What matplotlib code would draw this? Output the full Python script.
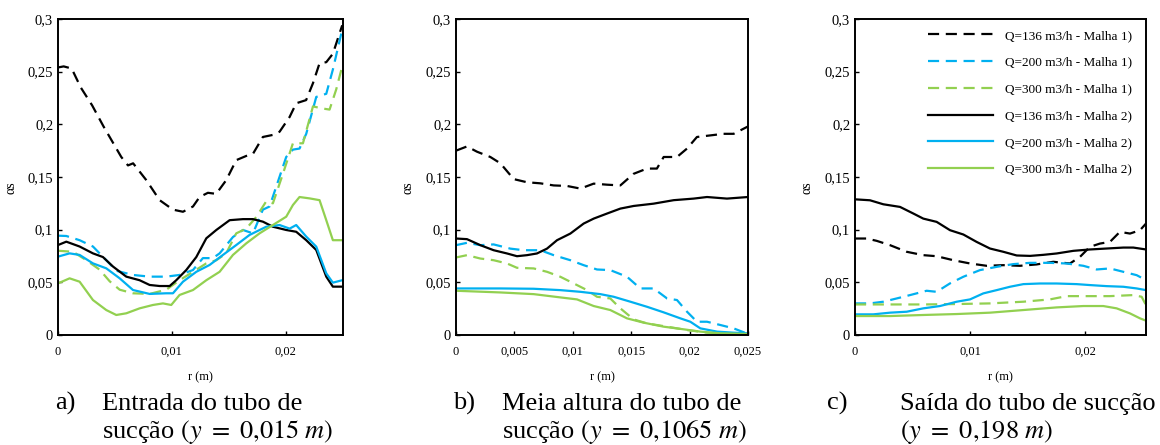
import numpy as np
import matplotlib
matplotlib.use("Agg")
import matplotlib.pyplot as plt

plt.rcParams['font.family'] = ['Liberation Serif', 'DejaVu Serif']
plt.rcParams['mathtext.fontset'] = 'stix'

BLACK = "#000000"
BLUE = "#00B0F0"
GREEN = "#92D050"

labels = ["Q=136 m3/h - Malha 1)", "Q=200 m3/h - Malha 1)", "Q=300 m3/h - Malha 1)",
          "Q=136 m3/h - Malha 2)", "Q=200 m3/h - Malha 2)", "Q=300 m3/h - Malha 2)"]

# r values are written in mm, converted to m when plotted
# ---- a) entrada do tubo de succao
a_r_136_m1 = [0, 0.5, 1.2, 2.0, 3.0, 4.0, 5.56, 6.15, 6.6, 7.76, 8.93, 10.1, 10.98, 11.86, 12.44, 13.17,
              13.9, 14.78, 15.66, 16.54, 17.13, 18.0, 18.9, 19.47, 20.35, 20.93, 21.8, 22.4, 22.98, 23.57, 24.15, 24.97]
a_136_m1 = [0.254, 0.255, 0.253, 0.235, 0.218, 0.198, 0.169, 0.161, 0.163, 0.147, 0.128, 0.119, 0.117, 0.122, 0.131, 0.135,
            0.134, 0.147, 0.166, 0.170, 0.172, 0.188, 0.19, 0.193, 0.207, 0.22, 0.223, 0.239, 0.258, 0.259, 0.267, 0.294]
a_r_200_m1 = [0, 0.73, 1.9, 3.07, 4.24, 5.12, 6.59, 8.05, 9.51, 10.68, 11.86, 12.73, 13.61, 14.2, 15.37, 16.25, 17.13,
              18.0, 18.59, 19.18, 20.05, 20.64, 21.22, 21.81, 22.69, 23.57, 24.15, 24.97]
a_200_m1 = [0.0943, 0.094, 0.09, 0.084, 0.071, 0.061, 0.057, 0.0554, 0.0554, 0.057, 0.0617, 0.073, 0.073, 0.0775, 0.093,
            0.0997, 0.0965, 0.119, 0.122, 0.141, 0.169, 0.176, 0.177, 0.191, 0.226, 0.229, 0.252, 0.29]
a_r_300_m1 = [0, 1.32, 2.49, 3.66, 4.54, 5.42, 6.59, 8.05, 9.51, 10.68, 11.86, 13.03, 13.91, 14.78, 15.66, 16.54, 17.42,
              18.3, 18.88, 19.76, 20.64, 21.52, 22.4, 23.27, 23.86, 24.44, 24.97]
a_300_m1 = [0.080, 0.079, 0.071, 0.062, 0.051, 0.043, 0.0396, 0.039, 0.043, 0.052, 0.060, 0.068, 0.071, 0.0775, 0.0965,
            0.101, 0.112, 0.127, 0.125, 0.153, 0.182, 0.182, 0.217, 0.215, 0.214, 0.233, 0.255]
a_r_136_m2 = [0, 0.73, 1.9, 3.07, 3.95, 4.83, 6.0, 7.17, 8.05, 8.93, 9.81, 10.39, 11.27, 12.15, 13.03, 13.91, 15.08,
              16.25, 17.13, 18.0, 18.88, 20.05, 20.93, 21.81, 22.69, 23.57, 24.15, 24.97]
a_136_m2 = [0.0854, 0.0886, 0.084, 0.0775, 0.074, 0.065, 0.0554, 0.052, 0.0475, 0.0465, 0.0465, 0.052, 0.0617, 0.074,
            0.0918, 0.0997, 0.109, 0.110, 0.110, 0.1076, 0.1028, 0.0997, 0.098, 0.090, 0.0807, 0.0554, 0.0459, 0.0459]
a_r_200_m2 = [0, 1.02, 1.9, 3.07, 4.24, 5.42, 6.59, 8.05, 9.51, 10.1, 10.98, 12.15, 13.32, 14.49, 15.66, 16.83, 18.3,
              19.47, 20.35, 20.93, 21.81, 22.69, 23.57, 24.15, 24.97]
a_200_m2 = [0.0744, 0.0775, 0.076, 0.068, 0.0633, 0.0538, 0.0427, 0.039, 0.0396, 0.0396, 0.0506, 0.060, 0.0665, 0.076,
            0.0854, 0.095, 0.1028, 0.1044, 0.101, 0.1044, 0.0934, 0.0839, 0.0585, 0.0497, 0.052]
a_r_300_m2 = [0, 1.02, 1.9, 3.07, 4.24, 5.12, 6.0, 7.17, 8.34, 9.22, 9.95, 10.68, 11.86, 13.03, 14.2, 15.37, 16.54,
              17.71, 18.88, 20.05, 20.64, 21.22, 22.1, 22.98, 23.57, 24.15, 24.97]
a_300_m2 = [0.049, 0.0538, 0.0506, 0.0332, 0.0237, 0.019, 0.0206, 0.0253, 0.0285, 0.030, 0.0285, 0.038, 0.0427, 0.052,
            0.060, 0.076, 0.087, 0.0965, 0.1044, 0.1123, 0.1234, 0.131, 0.1297, 0.128, 0.109, 0.090, 0.090]

# ---- b) meia altura
b_r_136_m1 = [0, 0.94, 1.8, 2.94, 3.8, 4.94, 6.08, 7.22, 8.36, 9.5, 10.65, 11.79, 12.93, 14.07, 15.2, 16.35, 17.2,
              17.78, 18.92, 19.78, 20.63, 21.78, 22.9, 23.77, 25.0]
b_136_m1 = [0.175, 0.179, 0.174, 0.169, 0.163, 0.148, 0.145, 0.144, 0.142, 0.1415, 0.139, 0.1437, 0.1427, 0.142, 0.153,
            0.158, 0.158, 0.169, 0.169, 0.177, 0.188, 0.1895, 0.191, 0.191, 0.198]
b_r_200_m1 = [0, 0.94, 2.08, 3.22, 4.65, 5.79, 7.22, 8.36, 9.79, 10.93, 12.07, 13.21, 14.64, 15.78, 16.92, 18.07,
              18.92, 19.78, 20.63, 21.49, 22.63, 23.77, 25.0]
b_200_m1 = [0.0853, 0.0875, 0.0853, 0.086, 0.082, 0.0805, 0.0805, 0.0758, 0.071, 0.0663, 0.0622, 0.0616, 0.0553,
            0.0442, 0.0442, 0.0347, 0.0332, 0.0221, 0.0126, 0.0126, 0.0095, 0.0063, 0.001]
b_r_300_m1 = [0, 0.94, 2.08, 3.22, 4.37, 5.22, 6.65, 7.79, 8.93, 10.07, 11.22, 12.07, 13.21, 14.07, 15.21, 16.35,
              18.07, 19.78, 21.49, 23.77, 25.0]
b_300_m1 = [0.0736, 0.0758, 0.0726, 0.071, 0.0679, 0.0638, 0.0632, 0.060, 0.0553, 0.049, 0.0426, 0.0363, 0.0347,
            0.0253, 0.0148, 0.011, 0.0079, 0.0047, 0.0022, 0.0016, 0.001]
b_r_136_m2 = [0, 0.94, 2.08, 3.22, 4.37, 5.22, 6.08, 6.93, 7.79, 8.65, 9.79, 10.93, 11.79, 12.93, 14.07, 15.21, 16.92,
              18.64, 20.35, 21.49, 23.2, 25.0]
b_136_m2 = [0.0916, 0.091, 0.0853, 0.0805, 0.0774, 0.0748, 0.0758, 0.0774, 0.082, 0.09, 0.0963, 0.1058, 0.1105, 0.1153,
            0.12, 0.1225, 0.1247, 0.128, 0.1295, 0.131, 0.1295, 0.131]
b_r_200_m2 = [0, 3.8, 6.65, 8.93, 10.65, 12.36, 13.5, 14.93, 16.35, 17.78, 19.21, 20.06, 20.92, 22.35, 23.77, 25.0]
b_200_m2 = [0.0442, 0.0442, 0.0439, 0.0426, 0.041, 0.0388, 0.0363, 0.0316, 0.0268, 0.0215, 0.0158, 0.0126, 0.0063,
            0.0032, 0.0022, 0.0016]
b_r_300_m2 = [0, 3.8, 6.65, 8.93, 10.36, 11.79, 13.21, 14.64, 16.07, 17.78, 19.49, 20.92, 22.63, 25.0]
b_300_m2 = [0.042, 0.0404, 0.0388, 0.0357, 0.0338, 0.0275, 0.0237, 0.0158, 0.0117, 0.0079, 0.0054, 0.0032, 0.0016, 0.001]

# ---- c) saida
c_r_136_m1 = [0, 1.01, 1.88, 3.04, 4.49, 5.93, 7.09, 8.54, 9.99, 11.43, 12.88, 14.33, 15.77, 17.22, 18.67, 19.54,
              20.4, 21.27, 22.14, 23.0, 23.88, 24.75, 25.27]
c_136_m1 = [0.0916, 0.0916, 0.0894, 0.0853, 0.079, 0.0758, 0.0748, 0.071, 0.0679, 0.0657, 0.0663, 0.0657, 0.067,
            0.0695, 0.0679, 0.0742, 0.0837, 0.0868, 0.0884, 0.0979, 0.0963, 0.0995, 0.1058]
c_r_200_m1 = [0, 1.3, 2.46, 3.62, 4.78, 6.22, 7.09, 8.25, 9.41, 10.85, 12.3, 13.75, 15.2, 16.93, 18.38, 19.83, 20.98,
              22.14, 23.3, 24.46, 25.27]
c_200_m1 = [0.030, 0.030, 0.0316, 0.0347, 0.0379, 0.042, 0.041, 0.049, 0.0553, 0.0616, 0.0647, 0.0673, 0.0685, 0.0685,
            0.0679, 0.0657, 0.0622, 0.0632, 0.060, 0.0568, 0.0521]
c_r_300_m1 = [0, 3.04, 5.93, 8.83, 11.72, 14.62, 16.93, 18.38, 20.4, 22.14, 24.17, 24.89, 25.27]
c_300_m1 = [0.029, 0.029, 0.029, 0.0294, 0.030, 0.0316, 0.0338, 0.0369, 0.0369, 0.0369, 0.0379, 0.0363, 0.0284]
c_r_136_m2 = [0, 1.3, 2.46, 3.91, 5.07, 5.93, 7.09, 8.25, 9.41, 10.56, 11.72, 12.88, 14.04, 15.2, 16.35, 17.51,
              18.96, 20.4, 21.85, 23.3, 24.17, 25.27]
c_136_m2 = [0.1288, 0.1279, 0.1241, 0.1216, 0.1153, 0.1105, 0.1074, 0.0995, 0.0954, 0.0884, 0.0821, 0.079, 0.0755,
            0.0751, 0.0761, 0.0774, 0.0799, 0.0812, 0.0821, 0.083, 0.083, 0.0812]
c_r_200_m2 = [0, 1.59, 3.04, 4.49, 5.93, 7.38, 8.83, 9.99, 11.14, 12.3, 13.46, 14.62, 16.06, 17.51, 19.25, 20.4,
              21.85, 23.3, 24.46, 25.27]
c_200_m2 = [0.0196, 0.0196, 0.0212, 0.0221, 0.0253, 0.0275, 0.0316, 0.0338, 0.0395, 0.0426, 0.0458, 0.0483, 0.0489,
            0.0489, 0.0483, 0.0474, 0.0464, 0.0458, 0.0442, 0.0426]
c_r_300_m2 = [0, 3.04, 5.93, 8.83, 11.72, 14.62, 17.51, 19.83, 21.56, 22.72, 23.88, 24.75, 25.27]
c_300_m2 = [0.018, 0.018, 0.019, 0.0199, 0.0212, 0.0237, 0.0262, 0.0275, 0.0275, 0.0253, 0.0205, 0.0158, 0.0136]

yticks = [0, 0.05, 0.1, 0.15, 0.2, 0.25, 0.3]
ytick_labels = ["0", "0,05", "0,1", "0,15", "0,2", "0,25", "0,3"]

styles = [(BLACK, (0, (5, 3))), (BLUE, (0, (5, 3))), (GREEN, (0, (5, 3))),
          (BLACK, '-'), (BLUE, '-'), (GREEN, '-')]

panels = [
    dict(series=[(a_r_136_m1, a_136_m1), (a_r_200_m1, a_200_m1), (a_r_300_m1, a_300_m1),
                 (a_r_136_m2, a_136_m2), (a_r_200_m2, a_200_m2), (a_r_300_m2, a_300_m2)],
         xmax=0.02504, xticks=[0, 0.01, 0.02], xlab=["0", "0,01", "0,02"]),
    dict(series=[(b_r_136_m1, b_136_m1), (b_r_200_m1, b_200_m1), (b_r_300_m1, b_300_m1),
                 (b_r_136_m2, b_136_m2), (b_r_200_m2, b_200_m2), (b_r_300_m2, b_300_m2)],
         xmax=0.025, xticks=[0, 0.005, 0.01, 0.015, 0.02, 0.025],
         xlab=["0", "0,005", "0,01", "0,015", "0,02", "0,025"]),
    dict(series=[(c_r_136_m1, c_136_m1), (c_r_200_m1, c_200_m1), (c_r_300_m1, c_300_m1),
                 (c_r_136_m2, c_136_m2), (c_r_200_m2, c_200_m2), (c_r_300_m2, c_300_m2)],
         xmax=0.02527, xticks=[0, 0.01, 0.02], xlab=["0", "0,01", "0,02"]),
]

W, H = 1160, 445
fig = plt.figure(figsize=(W / 100, H / 100), dpi=100)

# axes boxes in pixels: left, right
boxes = [(58, 343), (456, 748), (855, 1146)]
top_px, bot_px = 19, 335

for i, (p, (x0, x1)) in enumerate(zip(panels, boxes)):
    ax = fig.add_axes([x0 / W, 1 - bot_px / H, (x1 - x0) / W, (bot_px - top_px) / H])
    for (r, v), (col, ls), lab in zip(p["series"], styles, labels):
        ax.plot(np.array(r) / 1000, v, color=col, linestyle=ls, lw=1.6, label=lab,
                solid_joinstyle='round', dash_joinstyle='round')
    ax.set_xlim(0, p["xmax"])
    ax.set_ylim(0, 0.3)
    ax.set_yticks(yticks)
    ax.set_yticklabels(ytick_labels, fontsize=10.5)
    ax.set_xticks(p["xticks"])
    ax.set_xticklabels(p["xlab"], fontsize=9)
    ax.tick_params(axis='y', direction='in', length=3, width=1, pad=3.5)
    ax.tick_params(axis='x', direction='in', length=3, width=1, pad=8)
    for s in ax.spines.values():
        s.set_linewidth(1.4)
    ax.set_xlabel("r (m)", fontsize=9)
    ax.xaxis.set_label_coords(0.5, -0.115)
    ax.set_ylabel("αs", fontsize=10)
    ax.yaxis.set_label_coords(-0.142, 0.465)
    if i == 2:
        ax.legend(loc='upper left', bbox_to_anchor=(0.251, 0.966), frameon=False, fontsize=9.5,
                  handlelength=4.9, handletextpad=0.9, labelspacing=1.1,
                  borderpad=0, borderaxespad=0)

# captions below each panel
caps = [
    ("a)", "Entrada do tubo de", r"sucção $(y\ =\ 0{,}015\ m)$", 55, 102),
    ("b)", "Meia altura do tubo de", r"sucção $(y\ =\ 0{,}1065\ m)$", 453, 502),
    ("c)", "Saída do tubo de sucção", r"$(y\ =\ 0{,}198\ m)$", 827, 900),
]
for tag, l1, l2, xt, xs in caps:
    fig.text(xt / W, 1 - 410 / H, tag, fontsize=19, va='baseline')
    fig.text(xs / W, 1 - 410 / H, l1, fontsize=19, va='baseline')
    fig.text(xs / W, 1 - 438 / H, l2, fontsize=19, va='baseline')

fig.savefig("out.png", dpi=100)
